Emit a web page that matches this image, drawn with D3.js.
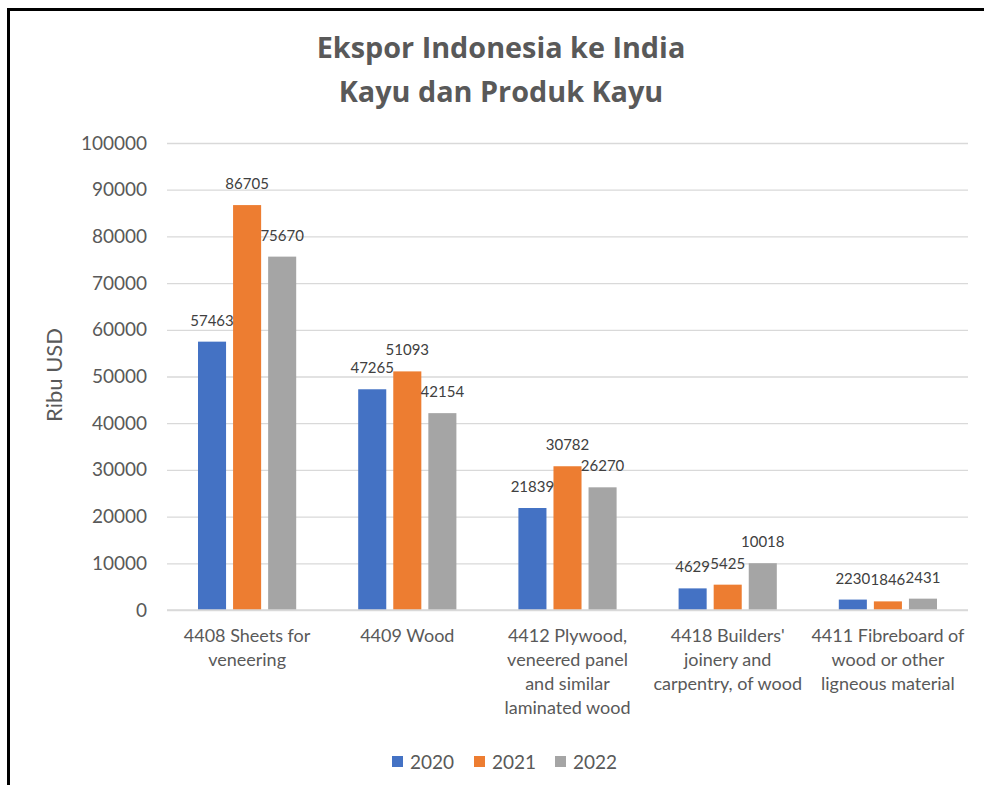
<!DOCTYPE html>
<html>
<head>
    <title>Ekspor Indonesia ke India</title>
    <script src="https://d3js.org/d3.v7.min.js"></script>
    <style>
        body { margin: 0; background: #fff; }
        text { font-family: Lato, "Open Sans", sans-serif; }
        text.title { font-family: "Open Sans", sans-serif; }
    </style>
</head>
<body>
    <svg width="984" height="785" id="mainSvg"></svg>
    <script>
        const categories = [
            ["4408 Sheets for", "veneering"],
            ["4409 Wood"],
            ["4412 Plywood,", "veneered panel", "and similar", "laminated wood"],
            ["4418 Builders'", "joinery and", "carpentry, of wood"],
            ["4411 Fibreboard of", "wood or other", "ligneous material"]
        ];
        const years = ["2020", "2021", "2022"];
        const values2020 = [57463, 47265, 21839, 4629, 2230];
        const values2021 = [86705, 51093, 30782, 5425, 1846];
        const values2022 = [75670, 42154, 26270, 10018, 2431];
        const yTicks = [0, 10000, 20000, 30000, 40000, 50000, 60000, 70000, 80000, 90000, 100000];
        const colors = ["#4472C4", "#ED7D31", "#A5A5A5"];

        const series = [values2020, values2021, values2022];
        const catKeys = categories.map(c => c.join(" "));

        const svg = d3.select("#mainSvg");
        const textColor = "#595959";

        // frame (top and left edges visible)
        svg.append("line")
            .attr("x1", 7).attr("x2", 984)
            .attr("y1", 9.5).attr("y2", 9.5)
            .attr("stroke", "#000").attr("stroke-width", 3);
        svg.append("line")
            .attr("x1", 8.5).attr("x2", 8.5)
            .attr("y1", 8).attr("y2", 785)
            .attr("stroke", "#000").attr("stroke-width", 3);

        const margin = { top: 143, left: 167, right: 16, bottom: 175 };
        const innerWidth = 984 - margin.left - margin.right;
        const innerHeight = 785 - margin.top - margin.bottom;

        const g = svg.append("g")
            .attr("transform", `translate(${margin.left}, ${margin.top})`);

        const xScale = d3.scaleBand()
            .domain(catKeys)
            .range([0, innerWidth]);

        const xInner = d3.scaleBand()
            .domain(years)
            .range([31, xScale.bandwidth() - 31])
            .paddingInner(0.2);

        const yScale = d3.scaleLinear()
            .domain([0, 100000])
            .range([innerHeight, 0]);

        // grid + y axis
        const yAxis = d3.axisLeft(yScale)
            .tickValues(yTicks)
            .tickSize(-innerWidth)
            .tickPadding(20)
            .tickFormat(d3.format("d"));

        const yAxisGroup = g.append("g").call(yAxis);
        yAxisGroup.select(".domain").remove();
        yAxisGroup.selectAll(".tick line")
            .attr("stroke", "#D9D9D9")
            .attr("stroke-width", 1.3);
        yAxisGroup.selectAll(".tick text")
            .attr("fill", textColor)
            .attr("font-size", 19);

        // bars
        const groups = g.selectAll(".cat")
            .data(catKeys)
            .join("g")
            .attr("class", "cat")
            .attr("transform", d => `translate(${xScale(d)}, 0)`);

        groups.selectAll("rect")
            .data((d, i) => years.map((y, j) => ({ year: y, value: series[j][i], j: j })))
            .join("rect")
            .attr("x", d => xInner(d.year))
            .attr("y", d => yScale(d.value))
            .attr("width", xInner.bandwidth())
            .attr("height", d => innerHeight - yScale(d.value))
            .attr("fill", d => colors[d.j]);

        groups.selectAll(".lbl")
            .data((d, i) => years.map((y, j) => ({ year: y, value: series[j][i] })))
            .join("text")
            .attr("class", "lbl")
            .attr("x", d => xInner(d.year) + xInner.bandwidth() / 2)
            .attr("y", d => yScale(d.value) - 16)
            .attr("text-anchor", "middle")
            .attr("font-size", 15)
            .attr("fill", "#404040")
            .text(d => d.value);

        // x axis baseline
        g.append("line")
            .attr("x1", 0).attr("x2", innerWidth)
            .attr("y1", innerHeight).attr("y2", innerHeight)
            .attr("stroke", "#D9D9D9")
            .attr("stroke-width", 1.3);

        // category labels
        const catLabels = g.selectAll(".catLabel")
            .data(categories)
            .join("text")
            .attr("class", "catLabel")
            .attr("x", (d, i) => xScale(catKeys[i]) + xScale.bandwidth() / 2)
            .attr("y", innerHeight + 32)
            .attr("text-anchor", "middle")
            .attr("font-size", 18)
            .attr("fill", textColor);
        catLabels.selectAll("tspan")
            .data(d => d)
            .join("tspan")
            .attr("x", function() { return d3.select(this.parentNode).attr("x"); })
            .attr("dy", (d, i) => i === 0 ? 0 : 24)
            .text(d => d);

        // title
        const titleLines = ["Ekspor Indonesia ke India", "Kayu dan Produk Kayu"];
        svg.selectAll(".title")
            .data(titleLines)
            .join("text")
            .attr("class", "title")
            .attr("x", 501)
            .attr("y", (d, i) => 58 + i * 44)
            .attr("text-anchor", "middle")
            .attr("font-size", 28.8)
            .attr("font-weight", "bold")
            .attr("fill", textColor)
            .text(d => d);

        // y axis title
        svg.append("text")
            .attr("transform", "translate(62, 375) rotate(-90)")
            .attr("text-anchor", "middle")
            .attr("font-size", 22)
            .attr("fill", textColor)
            .text("Ribu USD");

        // legend
        const legend = svg.append("g").attr("transform", "translate(392, 762)");
        const legendX = [0, 82, 163];
        legend.selectAll("rect")
            .data(years)
            .join("rect")
            .attr("x", (d, i) => legendX[i])
            .attr("y", -6)
            .attr("width", 11).attr("height", 11)
            .attr("fill", (d, i) => colors[i]);
        legend.selectAll("text")
            .data(years)
            .join("text")
            .attr("x", (d, i) => legendX[i] + 18)
            .attr("y", 7)
            .attr("font-size", 19)
            .attr("fill", textColor)
            .text(d => d);
    </script>
</body>
</html>
